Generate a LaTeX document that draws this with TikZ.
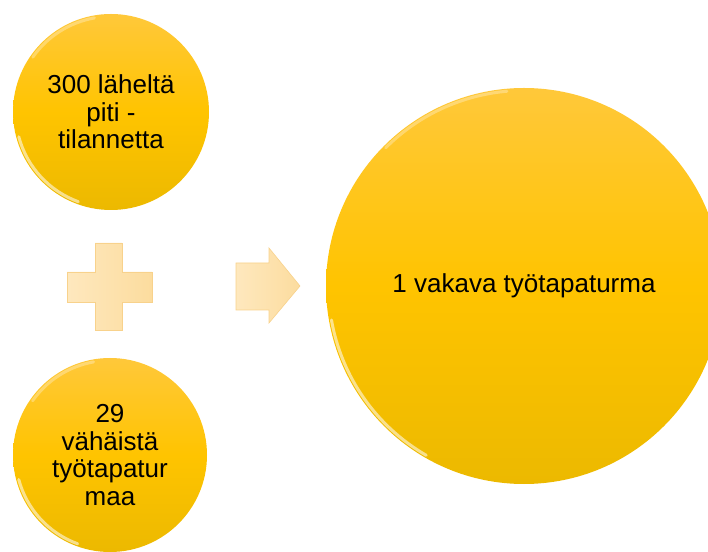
\documentclass[tikz,border=0pt]{standalone}
\usepackage{fontspec}
\setmainfont{Liberation Sans}
\usepackage{tikz}
\usetikzlibrary{arrows.meta}

\definecolor{balltop}{RGB}{255,200,58}
\definecolor{ballmid}{RGB}{255,196,0}
\definecolor{ballbot}{RGB}{236,185,0}
\definecolor{signfill}{RGB}{252,220,158}
\definecolor{signlight}{RGB}{254,232,190}
\definecolor{signedge}{RGB}{248,210,140}

\begin{document}
\begin{tikzpicture}[x=1pt,y=1pt,>=Stealth,
    ball/.style={circle,inner sep=0pt,align=center,
        top color=balltop,bottom color=ballbot,middle color=ballmid,
        font=\fontsize{26}{27.5}\selectfont},
    rim/.style={white,opacity=.55,line width=3pt,line cap=round},
    sign/.style={draw=signedge,line width=.6pt,left color=signlight,right color=signfill}]
            \useasboundingbox (0,0) rectangle (708,551);
            \node [ball,minimum size=196pt] (near) at (111,439) {300 läheltä\\piti -\\tilannetta};
            \node [ball,minimum size=194pt] (minor) at (110,96) {29\\vähäistä\\työtapatur\\maa};
            \node [ball,minimum size=396pt] (serious) at (524,265) {1 vakava työtapaturma};
            \draw [rim] ([shift={(195:95.5pt)}]near.center) arc [start angle=195,end angle=250,radius=95.5pt];
            \draw [rim] ([shift={(195:94.5pt)}]minor.center) arc [start angle=195,end angle=250,radius=94.5pt];
            \draw [rim] ([shift={(190:195.5pt)}]serious.center) arc [start angle=190,end angle=240,radius=195.5pt];
            \draw [rim,opacity=.3] ([shift={(100:95.5pt)}]near.center) arc [start angle=100,end angle=145,radius=95.5pt];
            \draw [rim,opacity=.3] ([shift={(100:94.5pt)}]minor.center) arc [start angle=100,end angle=145,radius=94.5pt];
            \draw [rim,opacity=.3] ([shift={(95:195.5pt)}]serious.center) arc [start angle=95,end angle=135,radius=195.5pt];
            \draw [sign] (95,308) -- (122,308) -- (122,279) -- (152,279) -- (152,249) -- (122,249)
                -- (122,221) -- (95,221) -- (95,249) -- (67,249) -- (67,279) -- (95,279) -- cycle;
            \draw [sign] (236,288) -- (269,288) -- (269,303) -- (300,265) -- (269,228) -- (269,241)
                -- (236,241) -- cycle;
        \end{tikzpicture}
\end{document}
